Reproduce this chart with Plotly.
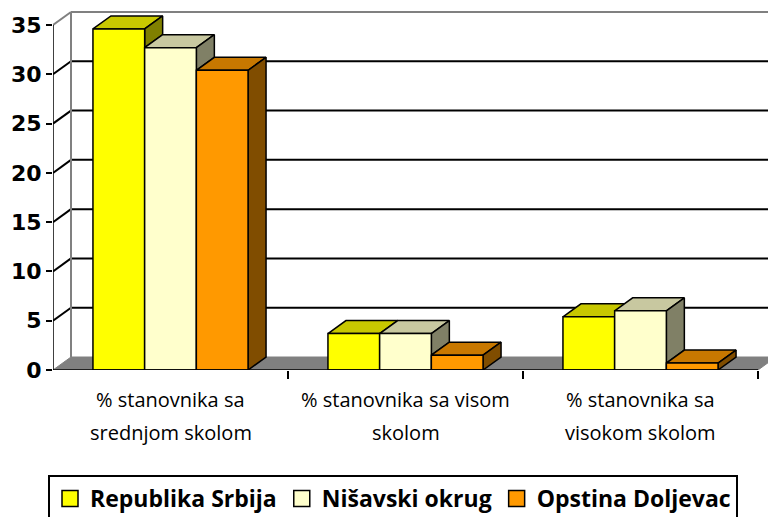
import plotly.graph_objects as go

# ---------------- data ----------------
categories = [
    "% stanovnika sa\nsrednjom skolom",
    "% stanovnika sa visom\nskolom",
    "% stanovnika sa\nvisokom skolom",
]
series_names = ["Republika Srbija", "Nišavski okrug", "Opstina Doljevac"]
republika_srbija = [34.6, 3.7, 5.4]
nisavski_okrug = [32.7, 3.7, 6.0]
opstina_doljevac = [30.4, 1.5, 0.7]
y_ticks = [0, 5, 10, 15, 20, 25, 30, 35]

series_values = [republika_srbija, nisavski_okrug, opstina_doljevac]

# ---------------- styles ----------------
front_colors = ["#FFFF00", "#FFFFCC", "#FF9900"]
top_colors = ["#C8C800", "#C8C8A0", "#C87800"]
side_colors = ["#808000", "#808066", "#804D00"]

W, H = 768, 517
M_L, M_T, M_B = 53, 5, 147
PLOT_W = W - M_L
PLOT_H = H - M_T - M_B
PX_PER_CAT = 235.0
PX_PER_UNIT = 345.0 / 35.0
X_MIN = -0.5
X_MAX = X_MIN + PLOT_W / PX_PER_CAT
Y_MAX = PLOT_H / PX_PER_UNIT
DX = 18.0 / PX_PER_CAT          # depth offset (x, data units)
DY = 13.0 / PX_PER_UNIT         # depth offset (y, data units)
BARGAP = 0.34
N = len(series_values)
BAR_W = (1 - BARGAP) / N
X_END = len(categories) - 0.5
TOPV = y_ticks[-1]

fig = go.Figure()

# 3D faces (top and side) on the main axes
for i in range(len(categories)):
    for k in range(N):
        h = series_values[k][i]
        L = i + (k - N / 2) * BAR_W
        R = L + BAR_W
        fig.add_trace(go.Scatter(
            x=[L, R, R + DX, L + DX, L], y=[h, h, h + DY, h + DY, h],
            mode="lines", fill="toself", fillcolor=top_colors[k],
            line=dict(color="black", width=1.5), hoverinfo="skip", showlegend=False))
        h2 = series_values[k + 1][i] if k < N - 1 else 0
        if h2 < h:
            fig.add_trace(go.Scatter(
                x=[R, R, R + DX, R + DX, R], y=[h2, h, h + DY, h2 + DY, h2],
                mode="lines", fill="toself", fillcolor=side_colors[k],
                line=dict(color="black", width=1.5), hoverinfo="skip", showlegend=False))

# front faces: bars on an overlaid axis so they sit above the faces
for k in range(N):
    fig.add_trace(go.Bar(
        x=list(range(len(categories))), y=series_values[k], name=series_names[k],
        marker=dict(color=front_colors[k], line=dict(color="black", width=1.5)),
        xaxis="x2", yaxis="y2", showlegend=False, hoverinfo="y"))

# legend entries
for k in range(N):
    fig.add_trace(go.Scatter(
        x=[None], y=[None], mode="markers", name=series_names[k],
        marker=dict(symbol="square", size=16, color=front_colors[k],
                    line=dict(color="black", width=1.5))))

# ---------------- walls, floor, grid ----------------
shapes = []
shapes.append(dict(
    type="path", xref="x", yref="y", layer="below",
    path=f"M {X_MIN},0 L {X_END},0 L {X_END + DX},{DY} L {X_MIN + DX},{DY} Z",
    fillcolor="#808080", line=dict(color="#808080", width=1)))
for v in y_ticks[1:]:
    col = "#808080" if v == TOPV else "black"
    shapes.append(dict(type="line", xref="x", yref="y", layer="below",
                       x0=X_MIN + DX, y0=v + DY, x1=X_MAX, y1=v + DY,
                       line=dict(color=col, width=2)))
    shapes.append(dict(type="line", xref="x", yref="y", layer="below",
                       x0=X_MIN, y0=v, x1=X_MIN + DX, y1=v + DY,
                       line=dict(color=col, width=2)))
shapes.append(dict(type="line", xref="x", yref="y", layer="below",
                   x0=X_MIN + DX, y0=DY, x1=X_MIN + DX, y1=TOPV + DY,
                   line=dict(color="#808080", width=2)))
shapes.append(dict(type="line", xref="x", yref="y", layer="above",
                   x0=X_MIN, y0=0, x1=X_MIN, y1=TOPV,
                   line=dict(color="black", width=1.5)))
shapes.append(dict(type="line", xref="x", yref="y", layer="above",
                   x0=X_MIN, y0=0, x1=X_END, y1=0,
                   line=dict(color="black", width=1.5)))

# category labels
annotations = []
line_px = [400, 432]
for i, cat in enumerate(categories):
    for j, part in enumerate(cat.split("\n")):
        annotations.append(dict(
            x=i, xref="x", y=(M_T + PLOT_H - line_px[j]) / PLOT_H, yref="paper",
            text=part, showarrow=False, xanchor="center", yanchor="middle",
            font=dict(family="Open Sans", size=20, color="black")))

fig.update_layout(
    width=W, height=H, autosize=False,
    margin=dict(l=M_L, r=0, t=M_T, b=M_B, pad=0),
    paper_bgcolor="white", plot_bgcolor="white",
    barmode="group", bargap=BARGAP, bargroupgap=0,
    shapes=shapes, annotations=annotations,
    xaxis=dict(range=[X_MIN, X_MAX], tickvals=[0.5, 1.5, 2.5], ticks="outside",
               ticklen=8, tickwidth=1.5, tickcolor="black", showticklabels=False,
               showgrid=False, zeroline=False, showline=False, fixedrange=True),
    yaxis=dict(range=[0, Y_MAX], tickvals=y_ticks, ticks="outside", ticklen=6,
               tickwidth=1.5, tickcolor="black", showgrid=False, zeroline=False,
               showline=False, fixedrange=True,
               tickfont=dict(family="DejaVu Sans", size=22, color="black", weight="bold")),
    xaxis2=dict(overlaying="x", range=[X_MIN, X_MAX], visible=False, anchor="y2",
                fixedrange=True),
    yaxis2=dict(overlaying="y", range=[0, Y_MAX], visible=False, anchor="x2",
                fixedrange=True),
    legend=dict(orientation="h", xref="container", x=48 / W, xanchor="left",
                yref="container", y=(H - 475) / H, yanchor="top",
                bordercolor="black", borderwidth=2, bgcolor="white",
                font=dict(family="Open Sans", size=23, color="black", weight="bold"),
                itemclick=False, itemdoubleclick=False),
    showlegend=True,
)

fig.write_html(
    "out.html",
    config={"displayModeBar": False},
    post_script="document.body.style.margin='0';document.body.style.overflow='hidden';",
)
